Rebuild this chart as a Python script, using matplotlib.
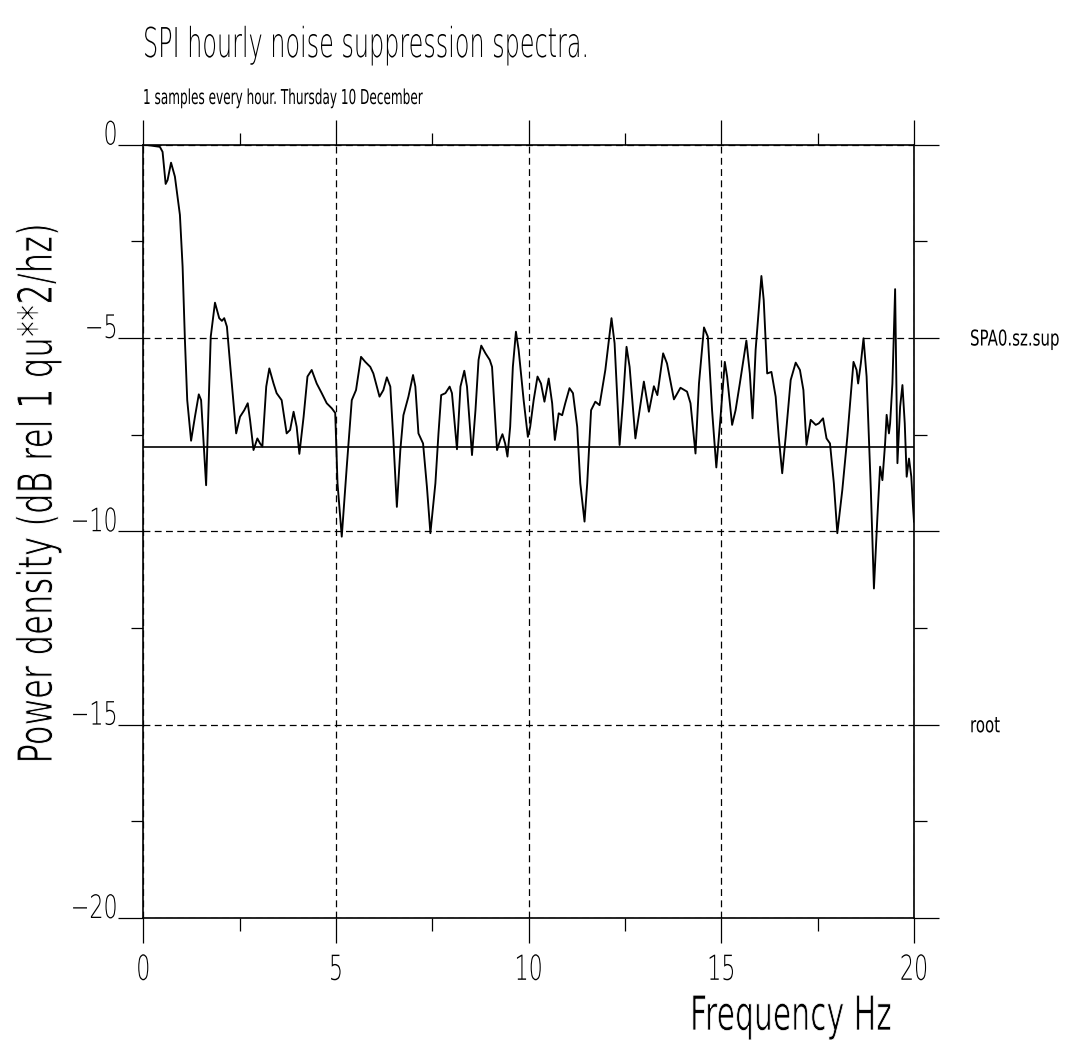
import numpy as np
import matplotlib
matplotlib.use("Agg")
import matplotlib.pyplot as plt
from matplotlib.patheffects import AbstractPathEffect
from matplotlib.transforms import Affine2D, blended_transform_factory
from matplotlib.ticker import FixedLocator, MultipleLocator

# ---------------- data ----------------
freq = [
    0.00, 0.43, 0.50, 0.58, 0.63, 0.72, 0.82, 0.95, 1.02, 1.08,
    1.14, 1.24, 1.34, 1.44, 1.50, 1.56, 1.63, 1.75, 1.86, 1.97,
    2.04, 2.10, 2.17, 2.25, 2.41, 2.51, 2.62, 2.71, 2.77, 2.86,
    2.96, 3.03, 3.09, 3.19, 3.27, 3.38, 3.46, 3.59, 3.72, 3.81,
    3.90, 3.98, 4.05, 4.16, 4.26, 4.37, 4.50, 4.63, 4.76, 4.89,
    4.98, 5.04, 5.15, 5.28, 5.41, 5.52, 5.65, 5.76, 5.89, 5.97,
    6.13, 6.23, 6.32, 6.41, 6.49, 6.58, 6.67, 6.75, 6.88, 7.00,
    7.06, 7.14, 7.26, 7.36, 7.45, 7.58, 7.66, 7.73, 7.84, 7.95,
    8.01, 8.14, 8.23, 8.33, 8.40, 8.53, 8.62, 8.70, 8.77, 8.88,
    8.99, 9.05, 9.18, 9.26, 9.32, 9.39, 9.45, 9.52, 9.59, 9.67,
    9.74, 9.87, 9.98, 10.04, 10.13, 10.23, 10.32, 10.41, 10.52, 10.61,
    10.68, 10.78, 10.87, 10.95, 11.06, 11.15, 11.26, 11.34, 11.45, 11.52,
    11.62, 11.73, 11.84, 11.99, 12.15, 12.23, 12.36, 12.45, 12.54, 12.62,
    12.77, 12.88, 12.99, 13.12, 13.25, 13.34, 13.49, 13.59, 13.77, 13.94,
    14.11, 14.20, 14.33, 14.42, 14.55, 14.65, 14.76, 14.87, 14.98, 15.09,
    15.15, 15.28, 15.37, 15.48, 15.65, 15.74, 15.81, 15.89, 16.04, 16.10,
    16.19, 16.30, 16.41, 16.49, 16.58, 16.67, 16.80, 16.93, 17.04, 17.13,
    17.21, 17.32, 17.45, 17.53, 17.64, 17.73, 17.82, 17.92, 18.01, 18.14,
    18.27, 18.43, 18.51, 18.55, 18.62, 18.69, 18.77, 18.88, 18.96, 19.05,
    19.12, 19.18, 19.25, 19.29, 19.35, 19.38, 19.44, 19.51, 19.57, 19.64,
    19.70, 19.76, 19.81, 19.87, 19.93, 19.97, 20.00,
]
power_db = [
    0.00, -0.06, -0.19, -1.02, -0.92, -0.47, -0.83, -1.82, -3.16, -5.06,
    -6.61, -7.66, -7.04, -6.46, -6.61, -7.64, -8.81, -4.97, -4.09, -4.49,
    -4.56, -4.49, -4.71, -5.65, -7.47, -7.04, -6.87, -6.69, -7.12, -7.90,
    -7.60, -7.73, -7.81, -6.26, -5.79, -6.18, -6.43, -6.61, -7.47, -7.38,
    -6.91, -7.30, -8.00, -7.04, -6.00, -5.83, -6.18, -6.43, -6.69, -6.82,
    -6.94, -8.76, -10.14, -8.33, -6.61, -6.35, -5.49, -5.62, -5.75, -5.92,
    -6.52, -6.35, -6.02, -6.26, -7.64, -9.37, -7.90, -7.00, -6.52, -5.96,
    -6.26, -7.47, -7.73, -8.85, -10.05, -8.76, -7.47, -6.48, -6.43, -6.26,
    -6.43, -7.88, -6.26, -5.85, -6.26, -8.03, -6.87, -5.57, -5.20, -5.40,
    -5.57, -5.75, -7.90, -7.64, -7.49, -7.73, -8.07, -7.30, -5.75, -4.84,
    -5.31, -6.61, -7.56, -7.30, -6.61, -6.00, -6.18, -6.65, -6.05, -6.69,
    -7.64, -6.95, -7.00, -6.69, -6.30, -6.43, -7.30, -8.76, -9.75, -8.76,
    -6.87, -6.65, -6.74, -5.83, -4.49, -5.14, -7.77, -6.61, -5.23, -5.75,
    -7.60, -6.87, -6.13, -6.91, -6.25, -6.48, -5.40, -5.66, -6.59, -6.29,
    -6.39, -6.69, -7.99, -6.18, -4.73, -4.97, -6.87, -8.35, -7.04, -5.62,
    -6.00, -7.25, -6.87, -6.18, -5.07, -5.92, -7.08, -5.31, -3.40, -4.02,
    -5.92, -5.88, -6.52, -7.56, -8.50, -7.56, -6.09, -5.64, -5.83, -6.35,
    -7.77, -7.12, -7.25, -7.21, -7.08, -7.60, -7.73, -8.76, -10.05, -8.93,
    -7.56, -5.62, -5.83, -6.18, -5.66, -5.01, -6.00, -8.93, -11.48, -9.63,
    -8.33, -8.68, -7.73, -6.99, -7.47, -7.21, -6.18, -3.74, -8.24, -6.78,
    -6.22, -7.21, -8.59, -8.12, -8.59, -9.30, -9.75,
]
mean_level = -7.83
x_major = [0, 5, 10, 15, 20]
y_major = [0, -5, -10, -15, -20]
title_text = "SPI hourly noise suppression spectra."
subtitle_text = "1 samples every hour. Thursday 10 December"
xlabel_text = "Frequency Hz"
ylabel_text = "Power density (dB rel 1 qu**2/hz)"
side_labels = ["SPA0.sz.sup", "root"]
side_levels = [-5, -15]


# ------------- tall (condensed-looking) text path effect -------------
class Tall(AbstractPathEffect):
    """Stretch glyphs upward from the baseline and optionally thin the
    strokes with a white outline (the Text stays real text)."""

    def __init__(self, sy=1.5, thin=0.0):
        super().__init__((0.0, 0.0))
        self.sy = sy
        self.thin = thin

    def draw_path(self, renderer, gc, tpath, affine, rgbFace=None):
        t = Affine2D().scale(1.0, self.sy) + affine
        renderer.draw_path(gc, tpath, t, rgbFace)
        if self.thin > 0:
            gc0 = renderer.new_gc()
            gc0.copy_properties(gc)
            gc0.set_linewidth(self.thin)
            gc0.set_foreground("white")
            gc0.set_joinstyle("round")
            renderer.draw_path(gc0, tpath, t, None)
            gc0.restore()


plt.rcParams["font.family"] = ["DejaVu Sans"]
plt.rcParams["font.weight"] = "light"

W, H = 1066, 1042
fig = plt.figure(figsize=(W / 100, H / 100), dpi=100)
fig.patch.set_facecolor("white")

x0_px, x1_px = 143.3, 914.0
ytop_px, ybot_px = 144.5, 918.0
ax = fig.add_axes([x0_px / W, 1 - ybot_px / H, (x1_px - x0_px) / W, (ybot_px - ytop_px) / H])

ax.set_xlim(0, 20)
ax.set_ylim(-20, 0)

ax.plot(freq, power_db, color="black", lw=1.35, solid_joinstyle="round", zorder=3)
ax.axhline(mean_level, color="black", lw=1.2, zorder=2.6)

ax.xaxis.set_major_locator(FixedLocator(x_major))
ax.yaxis.set_major_locator(FixedLocator(y_major))
ax.xaxis.set_minor_locator(MultipleLocator(2.5))
ax.yaxis.set_minor_locator(MultipleLocator(2.5))

ax.grid(which="major", color="black", lw=0.9, ls=(0, (5.5, 3.5)))

for sp in ax.spines.values():
    sp.set_linewidth(1.2)

ax.tick_params(which="both", direction="out", top=True, right=True,
               labeltop=False, labelright=False, color="black")
ax.tick_params(which="major", length=18, width=0.9)
ax.tick_params(which="minor", length=9, width=0.9)
ax.tick_params(axis="x", which="major", labelsize=16, pad=26.5)
ax.tick_params(axis="y", which="major", labelsize=16, pad=0.5)

for t in ax.xaxis.get_major_ticks():
    t.label1.set_verticalalignment("baseline")
    t.label1.set_path_effects([Tall(1.55)])
for t in ax.yaxis.get_major_ticks():
    t.label1.set_verticalalignment("baseline")
    t.label1.set_path_effects([Tall(1.45)])

# axis labels
ax.set_xlabel(xlabel_text, fontsize=21.5, ha="left", va="baseline",
              path_effects=[Tall(1.6, thin=0.55)])
ax.xaxis.set_label_coords((690 - x0_px) / (x1_px - x0_px),
                          (ybot_px - 1030) / (ybot_px - ytop_px))
ax.set_ylabel(ylabel_text, fontsize=23.3, rotation=90, rotation_mode="anchor",
              ha="center", va="baseline", path_effects=[Tall(1.48, thin=0.7)])
ax.yaxis.set_label_coords((52 - x0_px) / (x1_px - x0_px),
                          (ybot_px - 493.5) / (ybot_px - ytop_px))

# titles
fig.text(143 / W, 1 - 57 / H, title_text, fontsize=17.2, ha="left", va="baseline",
         path_effects=[Tall(1.72)])
fig.text(143 / W, 1 - 104 / H, subtitle_text, fontsize=8.7, fontweight="normal",
         ha="left", va="baseline", path_effects=[Tall(1.7)])

# side labels
trans = blended_transform_factory(fig.transFigure, ax.transData)
for lab, lev in zip(side_labels, side_levels):
    ax.annotate(lab, xy=(970 / W, lev), xycoords=trans, xytext=(0, -5.5),
                textcoords="offset points", fontsize=10.8, fontweight="normal",
                ha="left", va="baseline", path_effects=[Tall(1.45)],
                annotation_clip=False)

fig.savefig("out.png", dpi=100)
